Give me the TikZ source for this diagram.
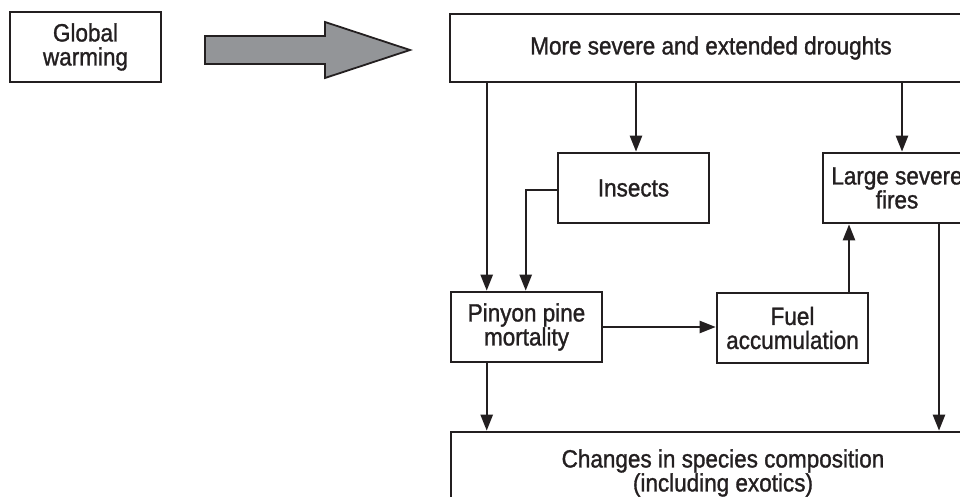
\documentclass[tikz,border=0pt]{standalone}
\usepackage{fontspec}
\setmainfont{Liberation Sans}[FakeStretch=0.9,FakeBold=1.2]
\usetikzlibrary{arrows.meta}
\definecolor{ink}{HTML}{231F20}
\definecolor{arrowgray}{HTML}{939598}
\begin{document}
\begin{tikzpicture}[x=1pt,y=-1pt,
  box/.style={draw=ink,line width=2.6pt,align=center,inner sep=0pt,text=ink,
    font=\fontsize{25pt}{24pt}\selectfont},
  arr/.style={draw=ink,line width=2.4pt,-{Triangle[length=16pt,width=12pt]}},
  ln/.style={draw=ink,line width=2.4pt}]
\useasboundingbox (0,0) rectangle (960,497);
\clip (0,0) rectangle (960,497);
% nodes
\node[box,minimum width=151pt,minimum height=70pt] (gw) at (85.5,47) {Global\\warming};
\node[box,minimum width=522pt,minimum height=68pt] (drought) at (711,48) {\raisebox{-4pt}{More severe and extended droughts}};
\node[box,minimum width=151pt,minimum height=70pt] (ins) at (633.5,188) {Insects};
\node[box,minimum width=148pt,minimum height=70pt] (fires) at (897,188) {Large severe\\fires};
\node[box,minimum width=151pt,minimum height=70pt] (pin) at (526.5,327) {Pinyon pine\\mortality};
\node[box,minimum width=151pt,minimum height=70pt] (fuel) at (792.5,328) {Fuel\\accumulation};
\node[box,minimum width=544pt,minimum height=82pt] (chg) at (723,473) {Changes in species composition\\(including exotics)};
% big arrow
\draw[draw=ink,fill=arrowgray,line width=1.8pt,line join=miter]
  (205,36) -- (325,36) -- (325,22) -- (410,50) -- (325,78) -- (325,64) -- (205,64) -- cycle;
% anchor coordinates
\coordinate (pinA) at ([xshift=37pt]pin.north west);
\coordinate (pinB) at ([xshift=76pt]pin.north west);
\coordinate (insL) at ([yshift=-2pt]ins.west);
\coordinate (insT) at ([xshift=2.5pt]ins.north);
\coordinate (firT) at ([xshift=5pt]fires.north);
\coordinate (fuelT) at ([xshift=56.5pt]fuel.north);
\coordinate (pinBot) at ([xshift=37pt]pin.south west);
\coordinate (firB) at ([xshift=42pt]fires.south);
% connectors
\draw[arr] (drought.south -| pinA) -- (pinA);
\draw[arr] (drought.south -| insT) -- (insT);
\draw[arr] (drought.south -| firT) -- (firT);
\draw[arr] (insL) -| (pinB);
\draw[arr] (pin.east) -- (pin.east -| fuel.west);
\draw[arr] (fuelT) -- (fuelT |- fires.south);
\draw[arr] (pinBot) -- (pinBot |- chg.north);
\draw[arr] (firB) -- (firB |- chg.north);
\end{tikzpicture}
\end{document}
